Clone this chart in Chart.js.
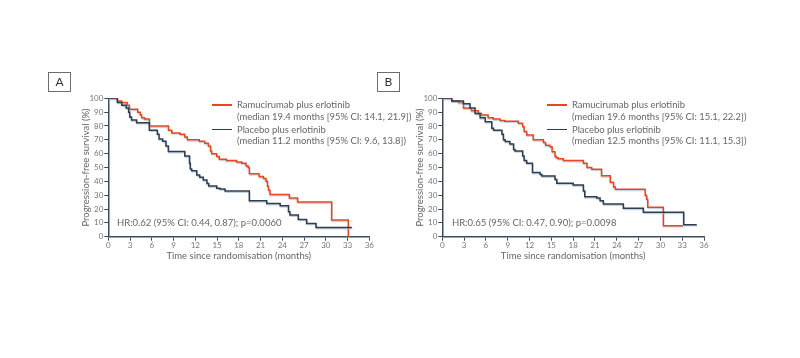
<!DOCTYPE html>
<html>
<head>
<meta charset="utf-8">
<script src="https://cdn.jsdelivr.net/npm/chart.js@4.4.1/dist/chart.umd.min.js"></script>
<style>
  html, body { margin:0; padding:0; background:#fff; }
  #wrap { position:relative; width:800px; height:358px; overflow:hidden; background:#fff; font-family: Lato, "Open Sans", sans-serif; }
  .cv { position:absolute; top:0; width:400px; height:358px; }
  .box { position:absolute; box-sizing:border-box; border:1px solid #6d6d6d; width:23px; height:20px; text-align:center; line-height:18px; font-size:12px; color:#333; }
  .sw { position:absolute; width:20px; height:1.6px; }
  .lt { position:absolute; font-size:9.45px; line-height:11.5px; color:#666; white-space:nowrap; }
  .hr { position:absolute; font-size:9.5px; line-height:12px; color:#666; white-space:nowrap; }
</style>
</head>
<body>
<div id="wrap">
  <div class="cv" style="left:0"><canvas id="cA" width="400" height="358"></canvas></div>
  <div class="cv" style="left:400px"><canvas id="cB" width="400" height="358"></canvas></div>

  <div class="box" style="left:48px;top:72px">A</div>
  <div class="box" style="left:377px;top:72px">B</div>

  <div class="sw" style="left:212px;top:104px;background:#e8461f"></div>
  <div class="lt" id="aL1" style="left:237px;top:99px"></div>
  <div class="sw" style="left:212px;top:128.5px;background:#2e3d4f"></div>
  <div class="lt" id="aL2" style="left:237px;top:123.5px"></div>
  <div class="hr" id="aHR" style="left:117px;top:216.5px"></div>

  <div class="sw" style="left:547px;top:104px;background:#e8461f"></div>
  <div class="lt" id="bL1" style="left:572px;top:99px"></div>
  <div class="sw" style="left:547px;top:128.5px;background:#2e3d4f"></div>
  <div class="lt" id="bL2" style="left:572px;top:123.5px"></div>
  <div class="hr" id="bHR" style="left:452px;top:216.5px"></div>
</div>
<script>
// ---- Panel A data (time in months, progression-free survival %) ----
const aRamTime = [0,1.25,1.85,2.6,2.9,4.05,4.4,4.6,5.0,5.66,8.3,8.75,9.9,10.55,10.9,12.55,13.3,13.8,14.1,14.25,14.95,15.3,16.3,17.7,18.4,19.0,19.3,19.45,20.8,21.4,21.75,21.95,22.1,22.3,24.97,26.1,30.8,33.1];
const aRamSurv = [100,98,97,95,92,90,88,86,85,80,77,75,74,72,70,69,67.5,65.5,62,60,58,56,55,54,53,51,50,45.5,43.5,42,40,36.5,33.5,30.5,28,25,12,0];
const aPlaTime = [0,1.25,1.85,2.45,2.8,2.95,3.2,3.9,5.66,6.76,7.0,7.5,7.95,8.28,10.55,11.2,11.3,11.5,12.2,12.6,13.1,13.6,13.85,14.95,15.4,16.1,19.45,21.85,23.7,24.85,25.05,26.2,27.35,28.65,33.6];
const aPlaSurv = [100,97,95,93,90,86.5,84.3,82.4,77,74,70.6,69,65.5,61.5,58.3,53,49,47.7,44.6,43,41,38.5,36.6,35,34.5,33,26,24,22.4,18,15.7,12.5,9.6,6.7,6.7];

// ---- Panel B data ----
const bRamTime = [0,1.3,2.2,2.9,4.0,4.95,5.4,6.3,7.0,7.95,8.6,10.45,11.05,11.25,11.6,12.5,13.9,14.2,14.8,15.1,15.5,15.7,15.95,16.65,19.4,19.9,20.55,21.9,23.1,23.55,23.8,27.9,28.1,28.25,30.4,33.1];
const bRamSurv = [100,98,97,93,91,89,88,86,85,84,83.5,82,79.5,76,73.5,70,68,66,65,61.4,58,57,56.4,55,53,50,48.7,44,39.3,36,34.2,30,27,21.2,8,8];
const bPlaTime = [0,1.3,2.9,3.8,4.5,5.2,5.9,6.8,7.05,8.2,8.4,8.65,9.3,9.8,10.0,11.05,11.25,11.6,12.4,13.45,13.7,15.5,15.75,18.0,19.4,19.6,21.25,21.7,22.15,24.9,27.65,33.2,35.0];
const bPlaSurv = [100,98,96,93,89,86,83,78.3,77,74,70,68.7,67,63,62,58.3,55,53,46.3,45,43.9,41.4,38.6,37.3,33,28.9,28,26,23.6,20.5,17.6,8.7,8.7];

// ---- Text ----
const seriesNames = ["Ramucirumab plus erlotinib", "Placebo plus erlotinib"];
const aMedians = ["(median 19.4 months [95% CI: 14.1, 21.9])", "(median 11.2 months [95% CI: 9.6, 13.8])"];
const bMedians = ["(median 19.6 months [95% CI: 15.1, 22.2])", "(median 12.5 months [95% CI: 11.1, 15.3])"];
const aHRText = "HR:0.62 (95% CI: 0.44, 0.87); p=0.0060";
const bHRText = "HR:0.65 (95% CI: 0.47, 0.90); p=0.0098";
const xTitle = "Time since randomisation (months)";
const yTitle = "Progression-free survival (%)";
const xMin = 0, xMax = 36, xStep = 3;
const yMin = 0, yMax = 100, yStep = 10;

const RED = '#e8461f', DARK = '#2e3d4f', AXIS = '#3d4a5a', TICK = '#777';

function setLegend(id, name, med) {
  document.getElementById(id).innerHTML = name + '<br>' + med;
}
setLegend('aL1', seriesNames[0], aMedians[0]);
setLegend('aL2', seriesNames[1], aMedians[1]);
setLegend('bL1', seriesNames[0], bMedians[0]);
setLegend('bL2', seriesNames[1], bMedians[1]);
document.getElementById('aHR').textContent = aHRText;
document.getElementById('bHR').textContent = bHRText;

function pts(t, s) { return t.map((v, i) => ({x: v, y: s[i]})); }

const shadowPlugin = {
  id: 'lineShadow',
  beforeDatasetDraw(chart) {
    const c = chart.ctx; c.save();
    c.shadowColor = 'rgba(150,175,200,0.55)'; c.shadowOffsetY = 1.2; c.shadowOffsetX = 0.6; c.shadowBlur = 0.5;
  },
  afterDatasetDraw(chart) { chart.ctx.restore(); }
};

function fixScale(w, h) {
  return function(scale) {
    if (w !== null) scale.width = w;
    if (h !== null) scale.height = h;
    scale.paddingTop = 0; scale.paddingBottom = 0; scale.paddingLeft = 0; scale.paddingRight = 0;
  };
}

function makeChart(id, ram, pla, padLeft, padRight) {
  const tickFont = {family: 'Lato', size: 8};
  return new Chart(document.getElementById(id), {
    type: 'scatter',
    data: {
      datasets: [
        {label: seriesNames[1], data: pla, showLine: true, stepped: true, borderColor: DARK, borderWidth: 1.5, pointRadius: 0, fill: false},
        {label: seriesNames[0], data: ram, showLine: true, stepped: true, borderColor: RED, borderWidth: 1.5, pointRadius: 0, fill: false}
      ]
    },
    options: {
      responsive: false, animation: false, devicePixelRatio: 1,
      layout: {padding: {left: padLeft, right: padRight, top: 98.3, bottom: 358 - 236.7 - 30}},
      plugins: {legend: {display: false}, tooltip: {enabled: false}},
      scales: {
        x: {
          type: 'linear', min: xMin, max: xMax,
          afterFit: fixScale(null, 30),
          ticks: {stepSize: xStep, color: TICK, font: tickFont, padding: 0, maxRotation: 0, autoSkip: false},
          grid: {display: true, drawOnChartArea: false, drawTicks: true, tickLength: 4, tickColor: AXIS, tickWidth: 1},
          border: {display: true, color: AXIS, width: 1.5},
          title: {display: true, text: xTitle, color: '#666', font: {family: 'Lato', size: 9.5}, padding: {top: 0, bottom: 5}}
        },
        y: {
          type: 'linear', min: yMin, max: yMax,
          afterFit: fixScale(35, null),
          ticks: {stepSize: yStep, color: TICK, font: tickFont, padding: 1},
          grid: {display: true, drawOnChartArea: false, drawTicks: true, tickLength: 4, tickColor: AXIS, tickWidth: 1},
          border: {display: true, color: AXIS, width: 1.5},
          title: {display: true, text: yTitle, color: '#666', font: {family: 'Lato', size: 9.5}, padding: {top: 7, bottom: 0}}
        }
      }
    },
    plugins: [shadowPlugin]
  });
}

makeChart('cA', pts(aRamTime, aRamSurv), pts(aPlaTime, aPlaSurv), 108.3 - 35, 400 - 369.3);
makeChart('cB', pts(bRamTime, bRamSurv), pts(bPlaTime, bPlaSurv), 442.3 - 400 - 35, 400 - 304);
</script>
</body>
</html>
